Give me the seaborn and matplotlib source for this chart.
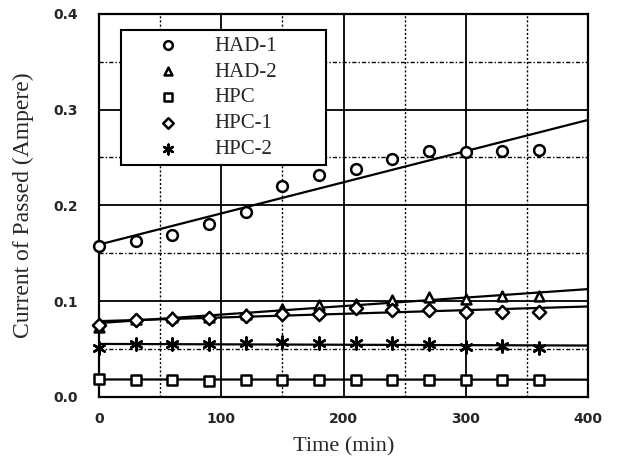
import matplotlib
matplotlib.use("Agg")
import matplotlib.pyplot as plt
import numpy as np
import seaborn as sns
from pandas import DataFrame

# time in minutes
time_min = [0, 30, 60, 90, 120, 150, 180, 210, 240, 270, 300, 330, 360]

# current of passed (Ampere)
had1 = [0.158, 0.163, 0.169, 0.180, 0.193, 0.220, 0.232, 0.238, 0.248, 0.257, 0.256, 0.257, 0.258]
had2 = [0.073, 0.081, 0.083, 0.083, 0.087, 0.092, 0.096, 0.097, 0.101, 0.104, 0.102, 0.105, 0.105]
hpc = [0.019, 0.018, 0.018, 0.017, 0.018, 0.018, 0.018, 0.018, 0.018, 0.018, 0.018, 0.018, 0.018]
hpc1 = [0.075, 0.080, 0.081, 0.082, 0.084, 0.086, 0.087, 0.093, 0.091, 0.091, 0.089, 0.089, 0.089]
hpc2 = [0.051, 0.055, 0.055, 0.055, 0.056, 0.057, 0.056, 0.056, 0.056, 0.055, 0.052, 0.053, 0.051]

names = ["HAD-1", "HAD-2", "HPC", "HPC-1", "HPC-2"]
series = [had1, had2, hpc, hpc1, hpc2]
markers = ["o", "^", "s", "D", (6, 2, 0)]
msizes = [60, 50, 45, 45, 75]

sns.set_style("ticks")
plt.rcParams['font.family'] = ['Liberation Serif', 'DejaVu Serif']

fig = plt.figure(figsize=(6.44, 4.63), dpi=100)
ax = fig.add_axes([0.154, 0.143, 0.759, 0.827])
ax.set_xlim(0, 400)
ax.set_ylim(0, 0.4)

# grid: solid major, dotted minor
for xv in [100, 200, 300]:
    ax.axvline(xv, color="black", lw=1.3, zorder=1)
for xv in [50, 150, 250, 350]:
    ax.axvline(xv, color="black", lw=1.0, ls=(0, (1.5, 1.5)), zorder=1)
for yv in [0.1, 0.2, 0.3]:
    ax.axhline(yv, color="black", lw=1.3, zorder=1)
for yv in [0.05, 0.15, 0.25, 0.35]:
    ax.axhline(yv, color="black", lw=1.0, ls=(0, (3, 1.5, 1, 1.5)), zorder=1)

for name, vals, mk, ms in zip(names, series, markers, msizes):
    df = DataFrame({"t": time_min, "c": vals})
    sns.regplot(x="t", y="c", data=df, ax=ax, ci=None, truncate=False,
                scatter=False, line_kws={"color": "black", "lw": 1.6, "zorder": 2})
    if mk == (6, 2, 0):
        sns.scatterplot(x="t", y="c", data=df, ax=ax, marker=mk, s=ms,
                        color="black", linewidth=1.8, label=name, zorder=4, clip_on=False)
    else:
        sns.scatterplot(x="t", y="c", data=df, ax=ax, marker=mk, s=ms,
                        facecolor="white", edgecolor="black", linewidth=1.8,
                        label=name, zorder=4, clip_on=False)

ax.set_xlim(0, 400)
ax.set_ylim(0, 0.4)
ax.set_xticks([0, 100, 200, 300, 400])
ax.set_yticks([0.0, 0.1, 0.2, 0.3, 0.4])
ax.set_yticklabels(["0.0", "0.1", "0.2", "0.3", "0.4"])
ax.tick_params(axis="x", length=0, pad=11)
ax.tick_params(axis="y", length=0, pad=15)
for lab in ax.get_xticklabels() + ax.get_yticklabels():
    lab.set_family("DejaVu Sans")
    lab.set_fontweight("bold")
    lab.set_fontsize(10)
for sp in ax.spines.values():
    sp.set_linewidth(1.6)
    sp.set_color("black")

ax.set_xlabel("Time (min)", fontsize=16, labelpad=8)
ax.set_ylabel("Current of Passed (Ampere)", fontsize=17, labelpad=14)

leg = ax.legend(loc="upper left", bbox_to_anchor=(0.045, 0.608, 0.419, 0.35),
                mode="expand", fontsize=15, markerscale=0.8,
                frameon=True, fancybox=False, framealpha=1, edgecolor="black",
                borderpad=0.3, labelspacing=0.3, handlelength=3.85,
                handletextpad=0.3, borderaxespad=0)
leg.get_frame().set_linewidth(1.5)
leg.set_zorder(5)

fig.savefig("out.png", dpi=100)
